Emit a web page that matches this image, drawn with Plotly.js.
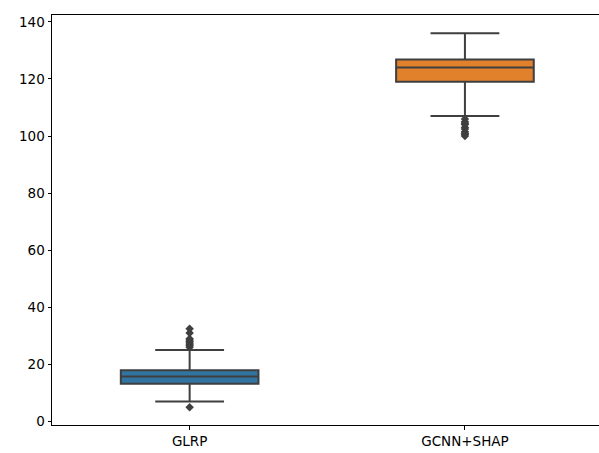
<!DOCTYPE html>
<html>
<head>
<meta charset="utf-8">
<script src="https://cdn.plot.ly/plotly-3.0.1.min.js"></script>
<style>html,body{margin:0;padding:0;background:#fff}#c{width:599px;height:453px}</style>
</head>
<body>
<div id="c"></div>
<script>
const categories = ["GLRP", "GCNN+SHAP"];
const q1 = [13.2, 119.0];
const medians = [15.7, 124.0];
const q3 = [17.9, 126.8];
const lowerWhisker = [7.0, 107.0];
const upperWhisker = [25.0, 136.0];
const boxColors = ["#3274a1", "#e1812c"];
const outliersGLRP = [5.0, 26.0, 26.5, 27.0, 27.5, 28.0, 28.5, 29.0, 31.0, 32.5];
const outliersGCNN = [106.0, 105.0, 104.5, 104.0, 103.0, 102.5, 101.5, 101.0, 100.5, 100.0];
const outlierSets = [outliersGLRP, outliersGCNN];
const yTicks = [0, 20, 40, 60, 80, 100, 120, 140];

const lineCol = "#3f3f3f";
const traces = [];
categories.forEach((c, i) => {
  traces.push({
    type: "box",
    x: [c],
    q1: [q1[i]], median: [medians[i]], q3: [q3[i]],
    lowerfence: [lowerWhisker[i]], upperfence: [upperWhisker[i]],
    width: 0.5,
    whiskerwidth: 0.5,
    fillcolor: boxColors[i],
    line: {color: lineCol, width: 2},
    boxpoints: false,
    hoverinfo: "skip",
    showlegend: false
  });
});
categories.forEach((c, i) => {
  traces.push({
    type: "scatter", mode: "markers",
    x: outlierSets[i].map(() => c),
    y: outlierSets[i],
    marker: {symbol: "diamond", size: 6.5, color: lineCol, line: {width: 0}},
    showlegend: false, hoverinfo: "skip"
  });
});

const font = {family: "DejaVu Sans", size: 13.5, color: "#000"};
Plotly.newPlot("c", traces, {
  width: 599, height: 453,
  margin: {l: 52, r: 0, t: 15, b: 28},
  paper_bgcolor: "#fff", plot_bgcolor: "#fff",
  font: font,
  showlegend: false,
  boxmode: "overlay",
  xaxis: {
    type: "category", categoryorder: "array", categoryarray: categories,
    range: [-0.5, 1.487],
    showline: true, mirror: true, linecolor: "#000", linewidth: 1,
    ticks: "outside", ticklen: 3.5, tickcolor: "#000", tickwidth: 1,
    showgrid: false, zeroline: false, tickfont: font
  },
  yaxis: {
    range: [-1.25, 142.4],
    tickvals: yTicks, ticktext: yTicks.map(String),
    showline: true, mirror: false, linecolor: "#000", linewidth: 1,
    ticks: "outside", ticklen: 3.5, tickcolor: "#000", tickwidth: 1,
    showgrid: false, zeroline: false, tickfont: font
  }
}, {staticPlot: true, displayModeBar: false});
</script>
</body>
</html>
